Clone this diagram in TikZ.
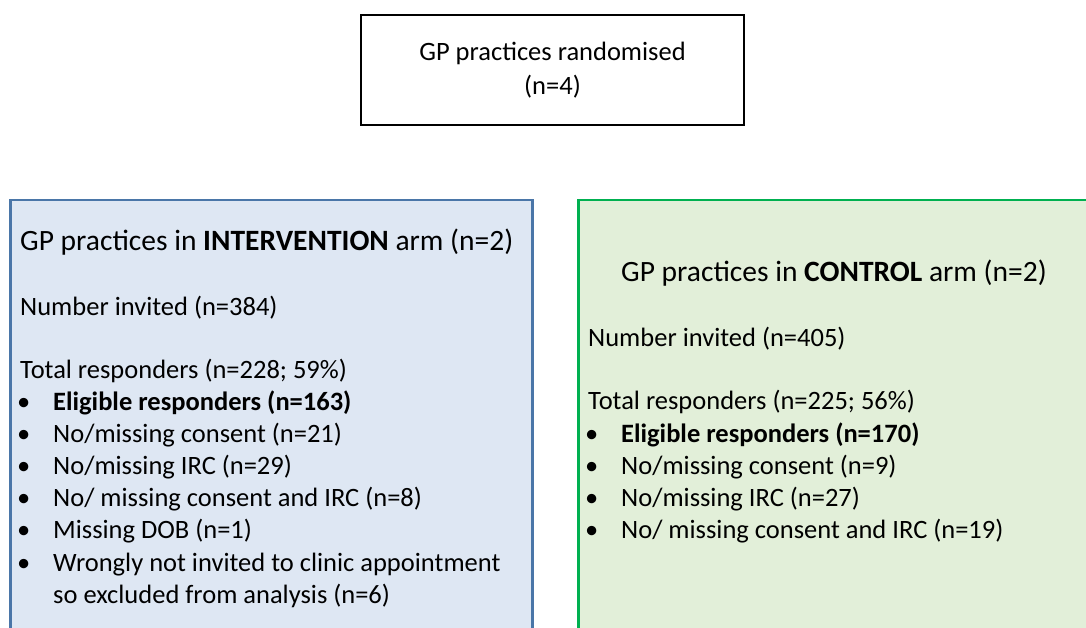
\documentclass[tikz,border=0pt]{standalone}
\usepackage{fontspec}
\setmainfont{Carlito}
\usepackage{tikz}

\definecolor{intervfill}{HTML}{DEE7F3}
\definecolor{intervline}{HTML}{4A76A8}
\definecolor{ctrlfill}{HTML}{E2EFD9}
\definecolor{ctrlline}{HTML}{00B050}

\newcommand{\blt}{\makebox[33pt][l]{\hspace*{-3pt}\textbullet}}

\tikzset{
  topbox/.style={draw=black, line width=2pt, minimum width=383pt, minimum height=110pt, inner sep=0pt},
  armbox/.style={line width=2.5pt, inner sep=0pt, anchor=north west, minimum height=480pt},
  rowtext/.style={anchor=base west, inner sep=0pt, font=\fontsize{26.5}{32}\selectfont},
  headtext/.style={anchor=base west, inner sep=0pt, font=\fontsize{29.5}{35}\selectfont},
}

\begin{document}
\begin{tikzpicture}[x=1pt,y=-1pt]
\useasboundingbox (0,0) rectangle (1086,628);
\clip (0,0) rectangle (1086,628);
% randomisation
\node [topbox, align=center, font=\fontsize{26.5}{34}\selectfont] (rand) at (552.5,70.5) {GP practices randomised\\(n=4)};
% intervention arm
\node [armbox, draw=intervline, fill=intervfill, minimum width=522pt] (interv) at (9,199) {};
\node [headtext] (ihead) at (20,251) {GP practices in \textbf{INTERVENTION} arm (n=2)};
\node [rowtext] (iinv) at (20,315) {Number invited (n=384)};
\node [rowtext] (itot) at (20,378) {Total responders (n=228; 59\%)};
\node [rowtext] (ielig) at (20,410) {\blt\textbf{Eligible responders (n=163)}};
\node [rowtext] (icons) at (20,442) {\blt No/missing consent (n=21)};
\node [rowtext] (iirc) at (20,474) {\blt No/missing IRC (n=29)};
\node [rowtext] (iboth) at (20,506) {\blt No/ missing consent and IRC (n=8)};
\node [rowtext] (idob) at (20,538) {\blt Missing DOB (n=1)};
\node [rowtext] (iwrong) at (20,571) {\blt Wrongly not invited to clinic appointment};
\node [rowtext] (iwrongb) at (53,603) {so excluded from analysis (n=6)};
% control arm
\node [armbox, draw=ctrlline, fill=ctrlfill, minimum width=530pt] (ctrl) at (577,199) {};
\node [headtext] (chead) at (621,281) {GP practices in \textbf{CONTROL} arm (n=2)};
\node [rowtext] (cinv) at (588,346) {Number invited (n=405)};
\node [rowtext] (ctot) at (588,409) {Total responders (n=225; 56\%)};
\node [rowtext] (celig) at (588,442) {\blt\textbf{Eligible responders (n=170)}};
\node [rowtext] (ccons) at (588,474) {\blt No/missing consent (n=9)};
\node [rowtext] (circ) at (588,506) {\blt No/missing IRC (n=27)};
\node [rowtext] (cboth) at (588,538) {\blt No/ missing consent and IRC (n=19)};
\end{tikzpicture}
\end{document}
